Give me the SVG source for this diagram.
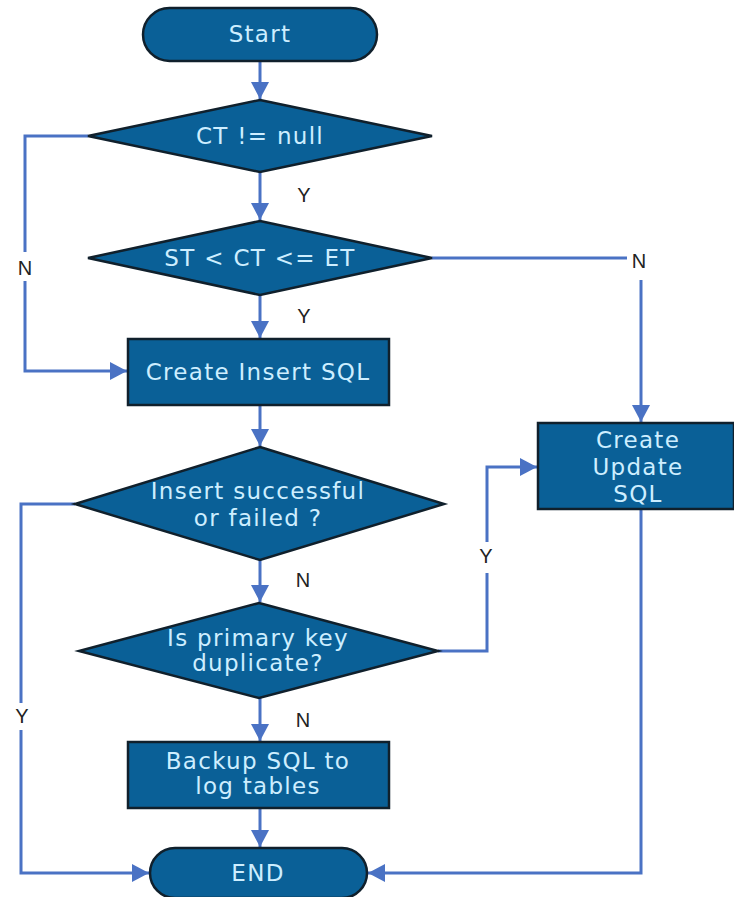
<svg xmlns="http://www.w3.org/2000/svg" width="734" height="897" viewBox="0 0 734 897">
<style>
.node{fill:#0a6097;stroke:#10202c;stroke-width:2.5}
.nt{fill:#cdeeff;font-family:"DejaVu Sans",sans-serif;font-size:23px;letter-spacing:1.3px;text-anchor:middle}
.lb{fill:#222;font-family:"Liberation Sans",sans-serif;font-size:20px;text-anchor:middle}
.cn{fill:none;stroke:#4a72c4;stroke-width:3}
</style>
<defs>
<marker id="ah" markerUnits="userSpaceOnUse" markerWidth="20" markerHeight="20" refX="17" refY="9" orient="auto">
<path d="M0,0 L17,9 L0,18 Z" fill="#4a72c4"/>
</marker>
</defs>
<g id="connectors">
<path class="cn" d="M260,61 V99" marker-end="url(#ah)"/>
<path class="cn" d="M260,172 V220" marker-end="url(#ah)"/>
<path class="cn" d="M260,295 V338" marker-end="url(#ah)"/>
<path class="cn" d="M260,405 V446" marker-end="url(#ah)"/>
<path class="cn" d="M260,560 V602" marker-end="url(#ah)"/>
<path class="cn" d="M260,698 V741" marker-end="url(#ah)"/>
<path class="cn" d="M260,808 V847" marker-end="url(#ah)"/>
<path class="cn" d="M88,136 H25 V252"/>
<path class="cn" d="M25,281 V371 H127" marker-end="url(#ah)"/>
<path class="cn" d="M432,258 H627"/>
<path class="cn" d="M641,280 V422" marker-end="url(#ah)"/>
<path class="cn" d="M75,504 H21 V703"/>
<path class="cn" d="M21,730 V873 H149" marker-end="url(#ah)"/>
<path class="cn" d="M438,651 H487 V573"/>
<path class="cn" d="M487,542 V467 H537" marker-end="url(#ah)"/>
<path class="cn" d="M641,509 V873 H368" marker-end="url(#ah)"/>
</g>
<g id="start"><rect class="node" x="143" y="8" width="234" height="53" rx="26.5"/><text class="nt" x="260" y="42">Start</text></g>
<g id="d1"><polygon class="node" points="260,100 432,136 260,172 88,136"/><text class="nt" x="260" y="144">CT != null</text></g>
<g id="d2"><polygon class="node" points="260,221 432,258 260,295 88,258"/><text class="nt" x="260" y="266">ST &lt; CT &lt;= ET</text></g>
<g id="insert"><rect class="node" x="128" y="339" width="261" height="66"/><text class="nt" x="258" y="380">Create Insert SQL</text></g>
<g id="d3"><polygon class="node" points="260,447 444,504 260,560 75,504"/><text class="nt" x="258" y="499">Insert successful</text><text class="nt" x="258" y="526">or failed ?</text></g>
<g id="d4"><polygon class="node" points="259,603 438,651 259,698 79,651"/><text class="nt" x="258" y="646">Is primary key</text><text class="nt" x="258" y="671">duplicate?</text></g>
<g id="update"><rect class="node" x="538" y="423" width="196" height="86"/><text class="nt" x="638" y="448">Create</text><text class="nt" x="638" y="475">Update</text><text class="nt" x="638" y="502">SQL</text></g>
<g id="backup"><rect class="node" x="128" y="742" width="261" height="66"/><text class="nt" x="258" y="769">Backup SQL to</text><text class="nt" x="258" y="794">log tables</text></g>
<g id="end"><rect class="node" x="150" y="848" width="217" height="50" rx="25"/><text class="nt" x="258" y="881">END</text></g>
<g id="labels">
<text class="lb" x="304" y="202">Y</text>
<text class="lb" x="304" y="323">Y</text>
<text class="lb" x="303" y="587">N</text>
<text class="lb" x="303" y="727">N</text>
<text class="lb" x="25" y="275">N</text>
<text class="lb" x="22" y="723">Y</text>
<text class="lb" x="486" y="563">Y</text>
<text class="lb" x="639" y="268">N</text>
</g>
</svg>
